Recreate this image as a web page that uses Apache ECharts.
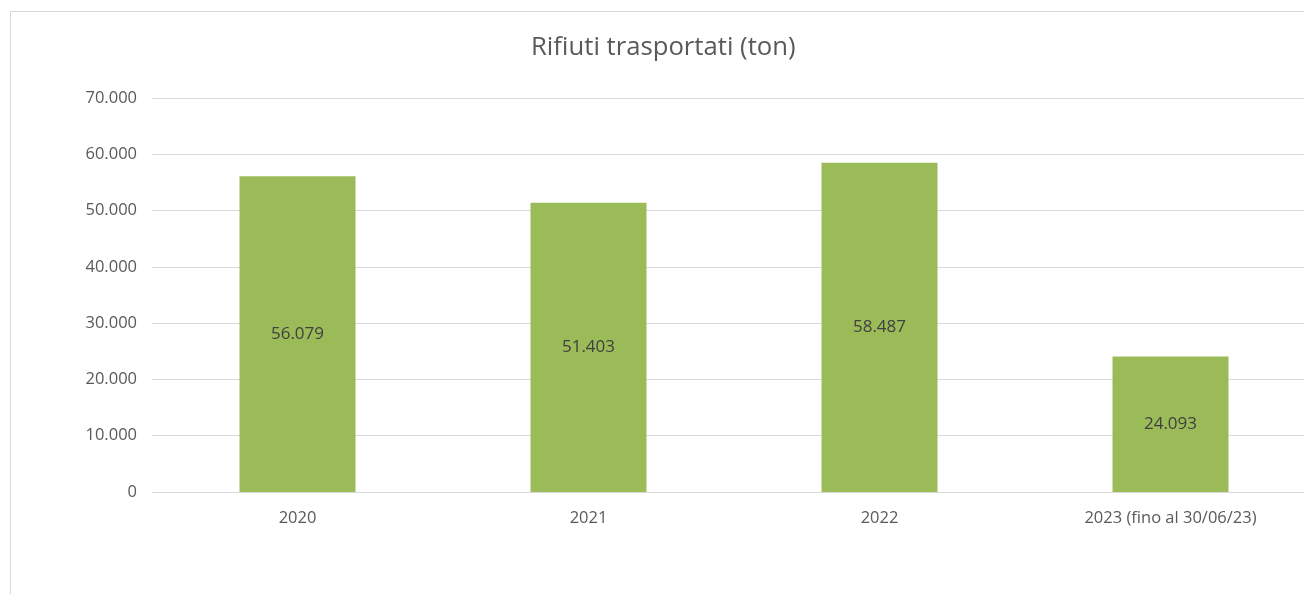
<!DOCTYPE html>
<html>
<head>
<meta charset="utf-8">
<script src="https://cdn.jsdelivr.net/npm/echarts@6/dist/echarts.min.js"></script>
<style>
  html, body { margin: 0; padding: 0; background: #fff; }
  #chart { width: 1304px; height: 594px; }
</style>
</head>
<body>
<div id="chart"></div>
<script>
const categories = ['2020', '2021', '2022', '2023 (fino al 30/06/23)'];
const values = [56079, 51403, 58487, 24093];

// numeri in formato italiano: 56.079
function fmt(v) {
    return String(v).replace(/\B(?=(\d{3})+(?!\d))/g, '.');
}

const chart = echarts.init(document.getElementById('chart'));
chart.setOption({
    animation: false,
    textStyle: { fontFamily: 'Open Sans' },
    graphic: [
        {
            type: 'rect',
            shape: { x: 10.5, y: 11.5, width: 1320, height: 600 },
            style: { fill: 'none', stroke: '#d9d9d9', lineWidth: 1 },
            silent: true
        }
    ],
    title: {
        text: 'Rifiuti trasportati (ton)',
        left: 526,
        top: 30,
        textStyle: { color: '#595959', fontSize: 25.7, fontWeight: 'normal' }
    },
    grid: {
        left: 152,
        top: 98,
        width: 1164,
        height: 394,
        outerBoundsMode: 'none',
        containLabel: false
    },
    xAxis: {
        type: 'category',
        data: categories,
        axisTick: { show: false },
        axisLine: { lineStyle: { color: '#d9d9d9', width: 1 } },
        axisLabel: { color: '#595959', fontSize: 16.5, margin: 18 }
    },
    yAxis: {
        type: 'value',
        min: 0,
        max: 70000,
        interval: 10000,
        axisLine: { show: false },
        axisTick: { show: false },
        axisLabel: {
            color: '#595959',
            fontSize: 16.5,
            margin: 15,
            formatter: fmt
        },
        splitLine: { lineStyle: { color: '#d9d9d9', width: 1 } }
    },
    series: [
        {
            type: 'bar',
            data: values,
            barWidth: 116,
            itemStyle: { color: '#9bbb59' },
            label: {
                show: true,
                position: 'inside',
                color: '#404040',
                fontSize: 17,
                formatter: p => fmt(p.value)
            }
        }
    ]
});
</script>
</body>
</html>
